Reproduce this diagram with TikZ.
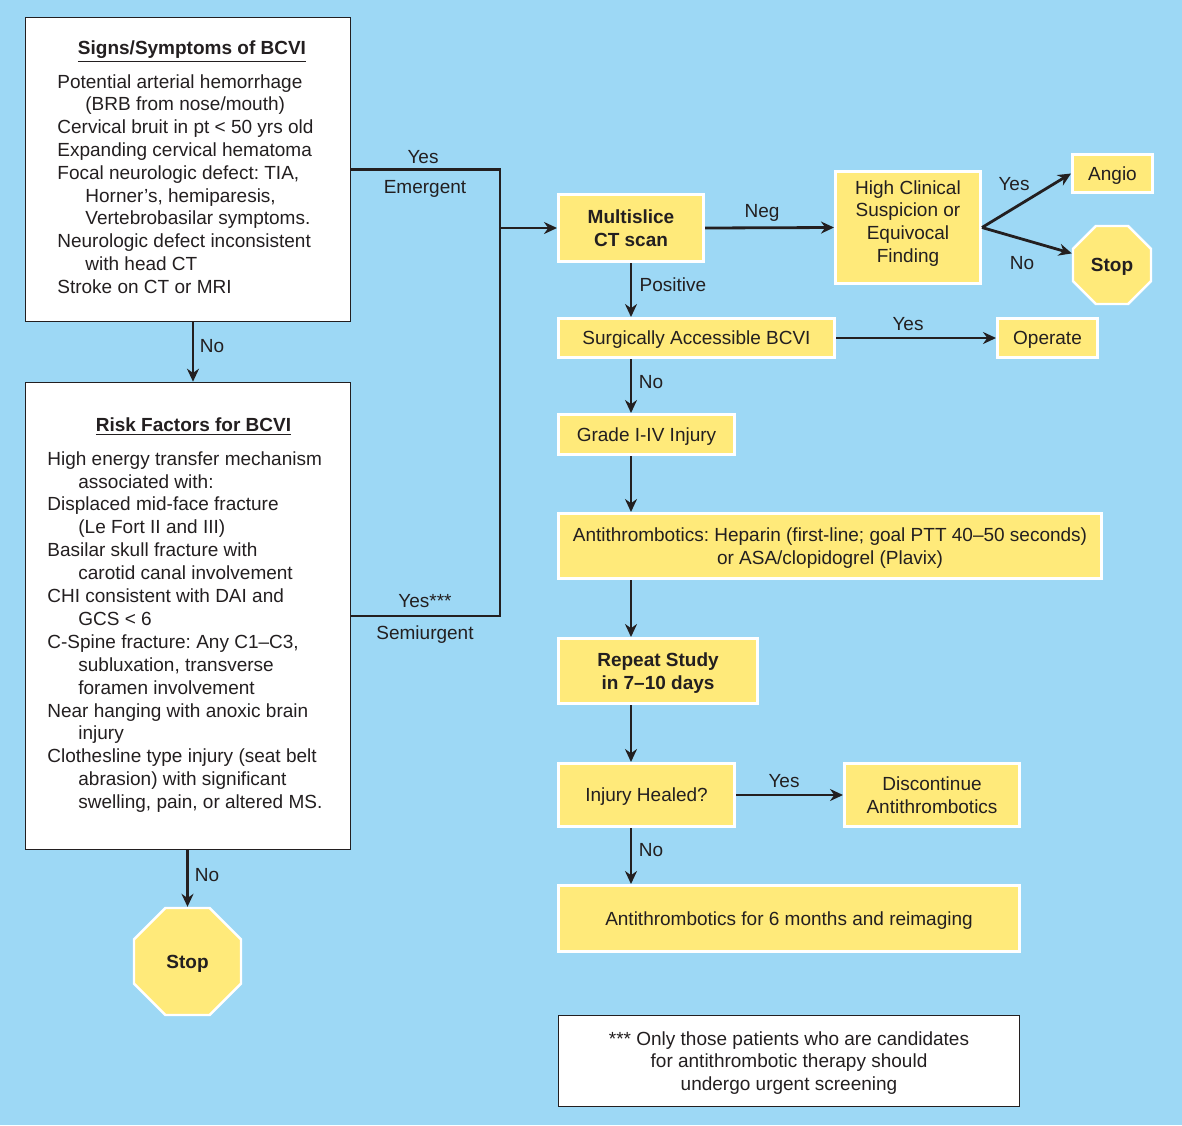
\documentclass[tikz,border=0pt]{standalone}
\usepackage{fontspec}
\setmainfont{Liberation Sans}
\usetikzlibrary{arrows.meta,shapes.geometric}
\definecolor{bg}{HTML}{9DD8F5}
\definecolor{yel}{HTML}{FFEA7A}
\definecolor{ink}{HTML}{231F20}
\frenchspacing
\tikzset{
 sz/.style 2 args={minimum width={#1*0.5pt-1.5pt}, minimum height={#2*0.5pt-1.5pt}},
 ybox/.style={rectangle, fill=yel, draw=white, line width=1.5pt, align=center},
 wbox/.style={rectangle, fill=white, draw=ink, line width=0.8pt},
 oct/.style={regular polygon, regular polygon sides=8, fill=yel, draw=white, line width=1.2pt, font=\fontsize{9.5}{11.4}\selectfont\bfseries},
 bold/.style={font=\fontsize{9.5}{11.4}\selectfont\bfseries},
 conn/.style={draw=ink, line width=1.4pt},
 arr/.style={conn, -{Stealth[length=6.5pt,width=6pt]}}
}
\begin{document}
\frenchspacing
\begin{tikzpicture}[x=0.5pt,y=-0.5pt,
 every node/.style={text=ink, font=\fontsize{9.5}{11.4}\selectfont, inner sep=0pt, text depth=0pt}]
\fill[bg] (0,0) rectangle (1182,1125);
\useasboundingbox (0,0) rectangle (1182,1125);

% left column
\node[wbox, sz={328}{307}] (sig) at (188,169.5) {};
\node[bold] (sigt) at (192,48) {\underline{Signs/Symptoms of BCVI}};
\node[anchor=north west, align=left] (sigb) at (57,74) {Potential arterial hemorrhage\\
\hspace*{14pt}(BRB from nose/mouth)\\
Cervical bruit in pt {<} 50 yrs old\\
Expanding cervical hematoma\\
Focal neurologic defect: TIA,\\
\hspace*{14pt}Horner’s, hemiparesis,\\
\hspace*{14pt}Vertebrobasilar symptoms.\\
Neurologic defect inconsistent\\
\hspace*{14pt}with head CT\\
Stroke on CT or MRI};

\node[wbox, sz={328}{470}] (risk) at (188,616) {};
\node[bold] (riskt) at (193.5,425) {\underline{Risk Factors for BCVI}};
\node[anchor=north west, align=left, font=\fontsize{9.5}{11.45}\selectfont] (riskb) at (47,451) {High energy transfer mechanism\\
\hspace*{15.5pt}associated with:\\
Displaced mid-face fracture\\
\hspace*{15.5pt}(Le Fort II and III)\\
Basilar skull fracture with\\
\hspace*{15.5pt}carotid canal involvement\\
CHI consistent with DAI and\\
\hspace*{15.5pt}GCS {<} 6\\
C-Spine fracture: Any C1–C3,\\
\hspace*{15.5pt}subluxation, transverse\\
\hspace*{15.5pt}foramen involvement\\
Near hanging with anoxic brain\\
\hspace*{15.5pt}injury\\
Clothesline type injury (seat belt\\
\hspace*{15.5pt}abrasion) with significant\\
\hspace*{15.5pt}swelling, pain, or altered MS.};

\node[oct, minimum size=57.9pt] (stop1) at (187.5,961.5) {Stop};

\draw[arr] ([xshift=2.5pt]sig.south) -- ([xshift=2.5pt]sig.south |- risk.north);
\node (no1) at (212,346) {No};
\draw[arr] (risk.south -| stop1.north) -- (stop1.north);
\node (no2) at (207,875) {No};

% junction
\coordinate (j1) at (500,169.5);
\coordinate (j2) at (500,616);

% right column
\node[ybox, sz={148}{70}, bold] (ct) at (631,228) {Multislice\\CT scan};
\node[ybox, sz={148}{115}, text depth=6pt] (hc) at (908,227.5) {High Clinical\\Suspicion or\\Equivocal\\Finding};
\node[ybox, sz={83}{41}] (angio) at (1112.5,173.5) {Angio};
\node[oct, minimum size=42.2pt] (stop2) at (1112,265) {Stop};
\node[ybox, sz={279}{42}] (surg) at (696.5,338) {Surgically Accessible BCVI};
\node[ybox, sz={103}{42}] (oper) at (1047.5,338) {Operate};
\node[ybox, sz={179}{43}] (grade) at (646.5,434.5) {Grade I-IV Injury};
\node[ybox, sz={546}{68}] (anti) at (830,546) {Antithrombotics: Heparin (first-line; goal PTT 40–50 seconds)\\or ASA/clopidogrel (Plavix)};
\node[ybox, sz={202}{68}, bold] (rep) at (658,671) {Repeat Study\\in 7–10 days};
\node[ybox, sz={179}{66}] (heal) at (646.5,795) {Injury Healed?};
\node[ybox, sz={178}{66}] (disc) at (932,795) {Discontinue\\Antithrombotics};
\node[ybox, sz={464}{69}] (six) at (789,918.5) {Antithrombotics for 6 months and reimaging};
\node[wbox, sz={464}{94}, align=center] (note) at (789,1061) {*** Only those patients who are candidates\\for antithrombotic therapy should\\undergo urgent screening};

\draw[conn] (sig.east) -- (j1) -- (j2) -- (risk.east);
\draw[arr] (j1 |- ct.west) -- (ct.west);
\node (yes1) at (423,157) {Yes};
\node (emer) at (425,187) {Emergent};
\node (yes2) at (425,601) {Yes***};
\node (semi) at (425,633) {Semiurgent};

\draw[arr] (ct.east) -- (hc.west);
\node (neg) at (762,211) {Neg};
\draw[arr] (hc.east) -- (angio.west);
\node (yes3) at (1014,184) {Yes};
\draw[arr] (hc.east) -- (stop2);
\node (no3) at (1022,263) {No};

\draw[arr] (ct.south) -- (ct.south |- surg.north);
\node (pos) at (673,285) {Positive};
\draw[arr] (surg.east) -- (oper.west);
\node (yes4) at (908,324) {Yes};
\draw[arr] (ct.south |- surg.south) -- (ct.south |- grade.north);
\node (no4) at (651,382) {No};
\draw[arr] (ct.south |- grade.south) -- (ct.south |- anti.north);
\draw[arr] (ct.south |- anti.south) -- (ct.south |- rep.north);
\draw[arr] (ct.south |- rep.south) -- (ct.south |- heal.north);
\draw[arr] (heal.east) -- (disc.west);
\node (yes5) at (784,781) {Yes};
\draw[arr] (ct.south |- heal.south) -- (ct.south |- six.north);
\node (no5) at (651,850) {No};
\end{tikzpicture}
\end{document}
